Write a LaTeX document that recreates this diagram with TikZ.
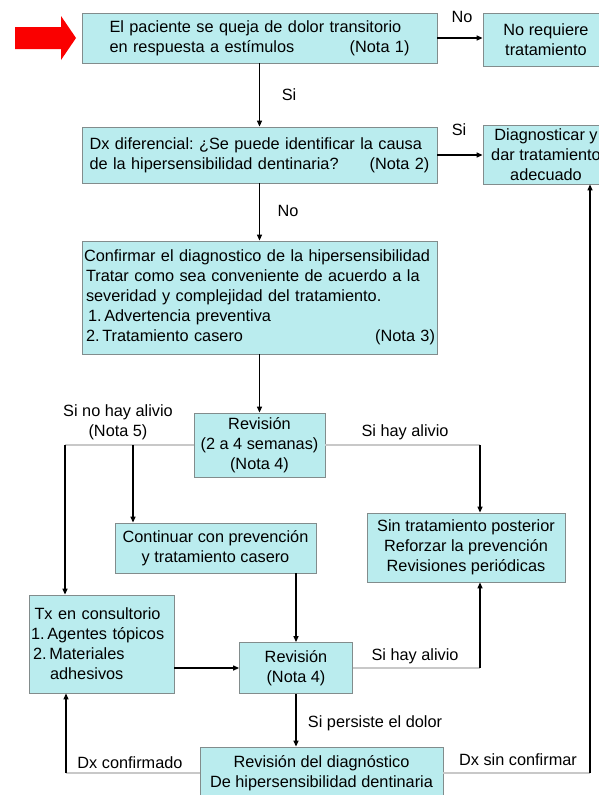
\documentclass[tikz,border=0pt]{standalone}
\usepackage{fontspec}
\setmainfont{Liberation Sans}
\usetikzlibrary{arrows.meta}
\definecolor{boxfill}{RGB}{186,236,238}
\definecolor{boxborder}{RGB}{130,140,140}
\definecolor{linegray}{RGB}{200,200,200}
\definecolor{redarrow}{RGB}{250,0,0}
\frenchspacing
\begin{document}
\begin{tikzpicture}[x=1pt,y=-1pt,
  font=\fontsize{16.3}{20}\selectfont\frenchspacing,
  box/.style={draw=boxborder, fill=boxfill, line width=0.8pt, inner sep=0pt, align=center},
  arr/.style={-{Triangle[length=6pt,width=5pt]}, line width=1.2pt, draw=black},
  gline/.style={line width=1.2pt, draw=linegray},
  lbl/.style={inner sep=0pt, anchor=center}]
\useasboundingbox (0,0) rectangle (599,795);
\clip (0,0) rectangle (599,795);
% red arrow
\fill[redarrow] (15,27) -- (61,27) -- (61,16) -- (76,38) -- (61,60) -- (61,49) -- (15,49) -- cycle;
% boxes
\node[box, minimum width=355pt, minimum height=50pt, text width=300pt, align=left] (b1) at (259.5,38)
  {El paciente se queja de dolor transitorio\\ en respuesta a estímulos\hfill(Nota 1)\hspace*{6pt}};
\node[box, minimum width=126pt, minimum height=53pt] (noreq) at (546,39.5) {No requiere\\tratamiento};
\node[box, minimum width=355pt, minimum height=56pt, text width=340pt, align=left] (b2) at (259.5,155)
  {Dx diferencial: ¿Se puede identificar la causa\\ de la hipersensibilidad dentinaria?\hfill(Nota 2)\hspace*{4pt}};
\node[box, minimum width=126pt, minimum height=59pt] (diag) at (546,154.5) {Diagnosticar y\\dar tratamiento\\adecuado};
\node[box, minimum width=355pt, minimum height=113pt, text width=351pt, align=left] (b3) at (259.5,297.5)
  {Confirmar el diagnostico de la hipersensibilidad\\
   \hspace*{2pt}Tratar como sea conveniente de acuerdo a la\\
   \hspace*{2pt}severidad y complejidad del tratamiento.\\
   \hspace*{4pt}1.\,Advertencia preventiva\\
   \hspace*{2pt}2.\,Tratamiento casero\hfill(Nota 3)\hspace*{4pt}};
\node[box, minimum width=131pt, minimum height=64pt] (rev1) at (259.5,445) {Revisión\\(2 a 4 semanas)\\(Nota 4)};
\node[box, minimum width=201pt, minimum height=50pt] (cont) at (215.5,548) {Continuar con prevención\\y tratamiento casero};
\node[box, minimum width=198pt, minimum height=69pt] (sin) at (466,547.5) {Sin tratamiento posterior\\Reforzar la prevención\\Revisiones periódicas};
\node[box, minimum width=145pt, minimum height=98pt, text width=141pt, align=left] (tx) at (101.5,644)
  {\makebox[133pt]{Tx en consultorio}\\1.\,Agentes tópicos\\\hspace*{2pt}2.\,Materiales\\\hspace*{19pt}adhesivos};
\node[box, minimum width=113pt, minimum height=51pt] (rev2) at (296,668) {Revisión\\(Nota 4)};
\node[box, minimum width=243pt, minimum height=52pt] (revdx) at (321.5,773) {Revisión del diagnóstico\\De hipersensibilidad dentinaria};
% labels
\node[lbl] (lno1) at (462,17) {No};
\node[lbl] (lsi1) at (289,95) {Si};
\node[lbl] (lsi2) at (459,130) {Si};
\node[lbl] (lno2) at (288,211) {No};
\node[lbl, align=center] (lnoalivio) at (118,422) {Si no hay alivio\\(Nota 5)};
\node[lbl] (lalivio1) at (405,432) {Si hay alivio};
\node[lbl] (lalivio2) at (415,656) {Si hay alivio};
\node[lbl] (lpersiste) at (375,723) {Si persiste el dolor};
\node[lbl] (lconf) at (130,763) {Dx confirmado};
\node[lbl] (lsinconf) at (518,760) {Dx sin confirmar};
% coordinates
\coordinate (jl) at (65,445);
\coordinate (jc) at (133,445);
\coordinate (jr) at (480,445);
\coordinate (jr2) at (480,668);
\coordinate (jdl) at (66,773);
\coordinate (jdr) at (590,773);
% connectors
\draw[arr] (b1.east) -- (noreq.west |- b1.east);
\draw[arr] (b1.south) -- (b2.north);
\draw[arr] (b2.east) -- (diag.west |- b2.east);
\draw[arr] (b2.south) -- (b3.north);
\draw[arr] (b3.south) -- (rev1.north);
\draw[gline] (rev1.west) -- (jl);
\draw[gline] (rev1.east) -- (jr);
\draw[arr] (jl) -- (jl |- tx.north);
\draw[arr] (jc) -- (jc |- cont.north);
\draw[arr] (jr) -- (jr |- sin.north);
\draw[arr] (rev2.north |- cont.south) -- (rev2.north);
\draw[arr] (tx.east |- rev2.west) -- (rev2.west);
\draw[gline] (rev2.east) -- (jr2);
\draw[arr] (jr2) -- (jr2 |- sin.south);
\draw[arr] (rev2.south) -- (rev2.south |- revdx.north);
\draw[gline] (revdx.west) -- (jdl);
\draw[arr] (jdl) -- (jdl |- tx.south);
\draw[gline] (revdx.east) -- (jdr);
\draw[arr] (jdr) -- (jdr |- diag.south);
\end{tikzpicture}
\end{document}
